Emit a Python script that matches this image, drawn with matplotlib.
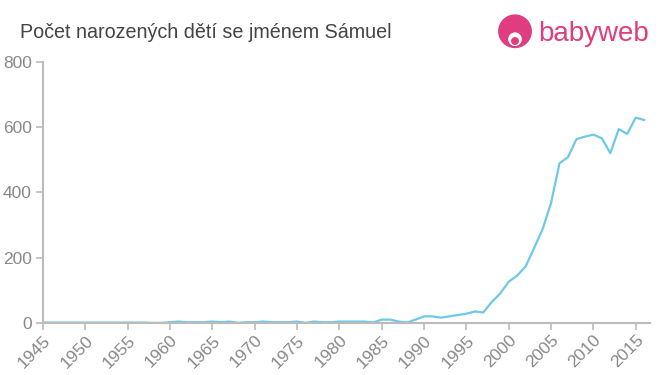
import matplotlib
matplotlib.use("Agg")
import matplotlib.pyplot as plt
from matplotlib.patches import Circle

# počet narozených dětí podle roku
years = list(range(1945, 2017))
counts = [1, 1, 1, 1, 1, 1, 1, 1, 1, 1,      # 1945-1954
          1, 1, 1, 0, 0, 2, 4, 2, 2, 2,      # 1955-1964
          4, 2, 4, 0, 2, 2, 4, 2, 2, 2,      # 1965-1974
          4, 0, 4, 2, 2, 4, 4, 4, 4, 1,      # 1975-1984
          10, 10, 4, 1, 10, 20, 20, 16, 20, 24,  # 1985-1994
          28, 35, 32, 64, 90, 126, 145, 173, 229, 287,  # 1995-2004
          367, 489, 508, 563, 571, 577, 566, 520, 594, 579,  # 2005-2014
          629, 622]  # 2015-2016

xticks = list(range(1945, 2016, 5))
yticks = [0, 200, 400, 600, 800]

title = "Počet narozených dětí se jménem Sámuel"

plt.rcParams['font.family'] = ['Liberation Sans', 'DejaVu Sans']

fig = plt.figure(figsize=(6.6, 3.75), dpi=100)
ax = fig.add_axes([0.065, 0.139, 0.92, 0.696])

ax.plot(years, counts, color='#6ec8e8', linewidth=1.6, solid_joinstyle='round')

ax.set_xlim(1945, 2016.7)
ax.set_ylim(0, 800)
ax.set_xticks(xticks)
ax.set_yticks(yticks)
ax.set_xticklabels([str(x) for x in xticks], rotation=45, ha='right', va='top',
                   rotation_mode='anchor')

for side in ['top', 'right']:
    ax.spines[side].set_visible(False)
for side in ['left', 'bottom']:
    ax.spines[side].set_color('#bbbbbb')
    ax.spines[side].set_linewidth(1.5)

ax.tick_params(axis='both', colors='#bbbbbb', width=1.2, length=5,
               labelcolor='#888888', labelsize=12.5)
ax.tick_params(axis='y', pad=3)
ax.tick_params(axis='x', pad=2)

fig.text(20 / 660, 1 - 32 / 375, title, fontsize=14.2, color='#444444',
         ha='left', va='center')

# logo babyweb
logo_ax = fig.add_axes([497 / 660, 1 - 50 / 375, 36 / 660, 36 / 375])
logo_ax.set_xlim(0, 1)
logo_ax.set_ylim(0, 1)
logo_ax.set_aspect('equal')
logo_ax.axis('off')
logo_ax.add_patch(Circle((0.5, 0.52), 0.45, color='#df3d80'))
logo_ax.add_patch(Circle((0.5, 0.3), 0.17, color='white'))
logo_ax.add_patch(Circle((0.5, 0.25), 0.09, color='#df3d80'))
fig.text(538 / 660, 1 - 34 / 375, "babyweb", fontsize=20, color='#df3d80',
         ha='left', va='center')

fig.savefig("out.png", dpi=100)
